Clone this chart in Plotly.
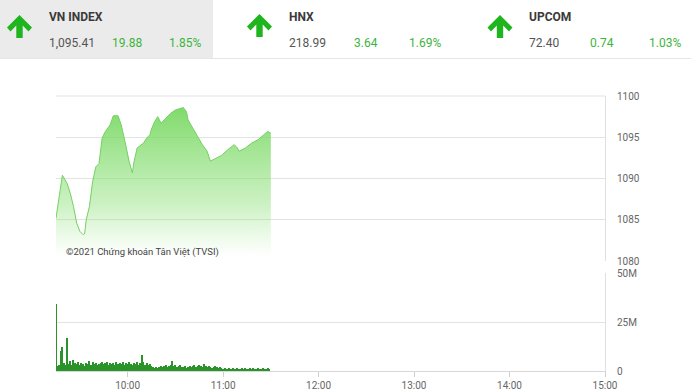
import plotly.graph_objects as go

W, H = 691, 391
DAY = "2021-03-01 "

# ---- data ----
price_times = ["09:15", "09:19", "09:22", "09:24", "09:26", "09:28", "09:30", "09:32", "09:33", "09:34",
               "09:36", "09:38", "09:40", "09:42", "09:44", "09:46", "09:49", "09:51", "09:54", "09:56",
               "09:59", "10:01", "10:03", "10:04", "10:06", "10:10", "10:12", "10:14", "10:15", "10:17",
               "10:19", "10:21", "10:24", "10:27", "10:30", "10:35", "10:37", "10:38", "10:41", "10:44",
               "10:47", "10:50", "10:52", "10:55", "10:59", "11:03", "11:07", "11:09", "11:10", "11:14",
               "11:18", "11:22", "11:26", "11:28", "11:30"]
price_values = [1085.2, 1090.4, 1089.4, 1088.2, 1086.6, 1084.6, 1083.6, 1083.2, 1083.3, 1085.0,
                1086.6, 1089.6, 1091.4, 1091.8, 1094.9, 1095.7, 1096.5, 1097.6, 1097.6, 1096.5,
                1093.9, 1092.0, 1090.7, 1092.0, 1093.7, 1094.3, 1094.9, 1095.3, 1096.0, 1096.9,
                1097.5, 1096.7, 1097.3, 1097.9, 1098.3, 1098.6, 1098.1, 1097.1, 1096.1, 1095.1,
                1094.1, 1093.3, 1092.1, 1092.4, 1092.8, 1093.5, 1094.1, 1093.7, 1093.3, 1093.7,
                1094.3, 1094.7, 1095.3, 1095.7, 1095.5]

# volume in millions, one bar per minute from 09:15
volume_values = [34, 2.5, 3, 10, 12, 4, 3, 17, 3.5, 5,
                 3, 5.5, 4, 3.5, 4.5, 3, 4, 3.5, 2.5, 4,
                 3.5, 5, 3, 4.5, 3.5, 4, 3, 3.5, 4, 4.5,
                 3.5, 4, 4.5, 3, 4, 3.5, 4, 3, 4.5, 3.5,
                 4, 3.5, 4.5, 3, 4, 3.5, 4.5, 3.5, 3, 4,
                 3.5, 4.5, 3, 4, 8, 4.5, 3, 4, 3, 3.5,
                 2.5, 2, 1.5, 2, 1.5, 2, 2.5, 2, 2.5, 3,
                 2, 2.5, 3, 5, 2.5, 3, 2, 2.5, 3, 2,
                 2, 2.5, 1.5, 2, 2.5, 2, 2.5, 3, 2, 2.5,
                 3, 2.5, 2, 3.5, 2.5, 2, 2.5, 2, 1.5, 2,
                 2.5, 2, 1.5, 2, 1.5, 1, 1.5, 1, 1, 1.5,
                 1, 1.5, 1, 1, 1.5, 1, 1, 1.5, 1, 1.5,
                 1, 1, 1.5, 1, 1.5, 1, 1, 1.5, 1, 1,
                 1.5, 1, 1, 1.5, 1]

price_ticks = [1080, 1085, 1090, 1095, 1100]
vol_ticks = [0, 25, 50]
vol_tick_labels = ["0", "25M", "50M"]
time_ticks = ["10:00", "11:00", "12:00", "13:00", "14:00", "15:00"]

indices = [
    {"name": "VN INDEX", "value": "1,095.41", "change": "19.88", "pct": "1.85%"},
    {"name": "HNX", "value": "218.99", "change": "3.64", "pct": "1.69%"},
    {"name": "UPCOM", "value": "72.40", "change": "0.74", "pct": "1.03%"},
]
watermark = "©2021 Chứng khoán Tân Việt (TVSI)"

# ---- helpers ----
def px(x):
    return x / W

def py(y):
    return 1 - y / H

FONT = "Roboto"
GREEN_TXT = "#3cb43c"
ARROW_GREEN = "#1fb51f"

import datetime as dt
base = dt.datetime(2021, 3, 1, 9, 15)
vol_times = [(base + dt.timedelta(minutes=i)).strftime("%Y-%m-%d %H:%M") for i in range(len(volume_values))]
ptimes = [DAY + t for t in price_times]

fig = go.Figure()

fig.add_trace(go.Scatter(
    x=ptimes, y=[1080] * len(ptimes), mode="lines", line=dict(width=0),
    hoverinfo="skip", showlegend=False, xaxis="x", yaxis="y"))
fig.add_trace(go.Scatter(
    x=ptimes, y=price_values, mode="lines",
    line=dict(color="#74d162", width=1),
    fill="tonexty",
    fillgradient=dict(type="vertical", start=1080.5, stop=1098.6,
                      colorscale=[[0, "rgba(150,228,130,0.0)"], [0.35, "rgba(140,224,120,0.45)"],
                                  [1, "rgba(120,216,98,0.95)"]]),
    showlegend=False, xaxis="x", yaxis="y"))

fig.add_trace(go.Bar(
    x=vol_times, y=volume_values, width=40000,
    marker=dict(color="#2a932a", line=dict(width=0)),
    showlegend=False, xaxis="x2", yaxis="y2"))

x0, x1 = DAY + "09:15", DAY + "15:00"
xdom = [px(56), px(605)]
tickfont = dict(family=FONT, size=10, color="#666")

fig.update_layout(
    width=W, height=H, margin=dict(l=0, r=0, t=0, b=0),
    paper_bgcolor="white", plot_bgcolor="white",
    bargap=0,
    xaxis=dict(domain=xdom, range=[x0, x1], type="date", showgrid=False, showticklabels=False,
               zeroline=False, anchor="y"),
    yaxis=dict(domain=[py(261), py(96)], range=[1080, 1100], side="right", tickvals=price_ticks,
               gridcolor="#e3e3e3", gridwidth=1, showline=True, linecolor="#e0e0e0", mirror=False,
               zeroline=False, tickfont=tickfont, ticklabelstandoff=9, automargin=False,
               anchor="x"),
    xaxis2=dict(domain=xdom, range=[x0, x1], type="date", showgrid=False,
                tickvals=[DAY + t for t in time_ticks], ticktext=time_ticks,
                ticks="outside", ticklen=5, tickcolor="#d0d0d0", showline=True, linecolor="#d8d8d8",
                tickfont=tickfont, zeroline=False, automargin=False, anchor="y2"),
    yaxis2=dict(domain=[py(371), py(273)], range=[0, 50], side="right", tickvals=vol_ticks,
                ticktext=vol_tick_labels, gridcolor="#e3e3e3", showline=True, linecolor="#e0e0e0",
                zeroline=False, tickfont=tickfont, ticklabelstandoff=9, automargin=False,
                anchor="x2"),
)

shapes = []
# grey box behind VN INDEX
shapes.append(dict(type="rect", xref="paper", yref="paper", x0=px(0), x1=px(213), y0=py(58), y1=py(0),
                   fillcolor="#ebebeb", line=dict(width=0), layer="below"))
shapes.append(dict(type="line", xref="paper", yref="paper", x0=px(0), x1=px(691), y0=py(58.5), y1=py(58.5),
                   line=dict(color="#e6e6e6", width=1)))
# top border of price panel
shapes.append(dict(type="line", xref="paper", yref="paper", x0=px(56), x1=px(605), y0=py(96), y1=py(96),
                   line=dict(color="#e3e3e3", width=1)))

# arrows
arrow_pts = [(0, 0), (12.5, 12.5), (9, 16.5), (3.2, 10.5), (3.2, 23), (-3.2, 23), (-3.2, 10.5),
             (-9, 16.5), (-12.5, 12.5)]
arrow_pos = [(19.5, 15), (259.5, 14), (500, 15)]
for cx, top in arrow_pos:
    path = "M " + " L ".join(f"{px(cx + dx):.5f},{py(top + dy):.5f}" for dx, dy in arrow_pts) + " Z"
    shapes.append(dict(type="path", xref="paper", yref="paper", path=path,
                       fillcolor=ARROW_GREEN, line=dict(width=0)))
fig.update_layout(shapes=shapes)

annotations = []
cols = [(47, 110, 203), (287, 352, 443), (527, 588, 683)]
for idx, (xa, xb, xc) in zip(indices, cols):
    annotations.append(dict(x=px(xa), y=py(17), xref="paper", yref="paper", text=f"<b>{idx['name']}</b>",
                            showarrow=False, xanchor="left", yanchor="middle",
                            font=dict(family=FONT, size=12, color="#3a3a3a")))
    annotations.append(dict(x=px(xa), y=py(43), xref="paper", yref="paper", text=idx["value"],
                            showarrow=False, xanchor="left", yanchor="middle",
                            font=dict(family=FONT, size=12, color="#555")))
    annotations.append(dict(x=px(xb), y=py(43), xref="paper", yref="paper", text=idx["change"],
                            showarrow=False, xanchor="left", yanchor="middle",
                            font=dict(family=FONT, size=12, color=GREEN_TXT)))
    annotations.append(dict(x=px(xc), y=py(43), xref="paper", yref="paper", text=idx["pct"],
                            showarrow=False, xanchor="right", yanchor="middle",
                            font=dict(family=FONT, size=12, color=GREEN_TXT)))
annotations.append(dict(x=px(64), y=py(252), xref="paper", yref="paper", text=watermark,
                        showarrow=False, xanchor="left", yanchor="middle",
                        font=dict(family=FONT, size=9.5, color="#444")))
fig.update_layout(annotations=annotations)

fig.write_html("out.html")
